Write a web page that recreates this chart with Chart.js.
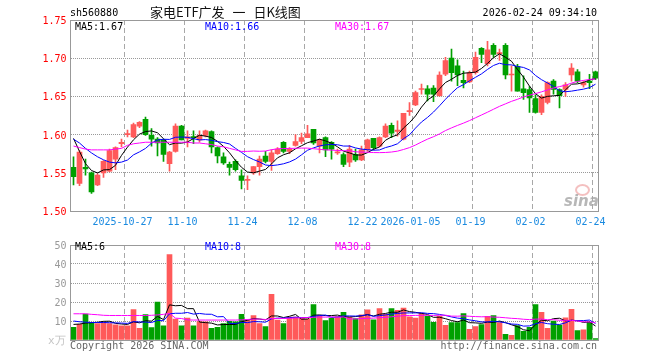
<!DOCTYPE html>
<html>
<head>
<meta charset="utf-8">
<script src="https://cdn.jsdelivr.net/npm/chart.js@4.4.1/dist/chart.umd.min.js"></script>
<style>
  body { margin: 0; background: #fff; }
  #wrap { position: relative; width: 660px; height: 360px; overflow: hidden; }
  canvas { position: absolute; left: 0; }
  .t { position: absolute; font: 10px "DejaVu Sans Mono", monospace; line-height: 12px; white-space: nowrap; }
</style>
</head>
<body>
<div id="wrap">
  <canvas id="kline" width="660" height="235" style="top:0"></canvas>
  <canvas id="vol" width="660" height="125" style="top:235px"></canvas>

  <div class="t" style="left:70px;top:7px;color:#000">sh560880</div>
  <div class="t" style="left:150px;top:4px;font:13px 'Noto Sans CJK SC';line-height:16px;color:#111;word-spacing:5px">家电ETF广发 一 日K线图</div>
  <div class="t" style="right:63px;top:7px;color:#000">2026-02-24 09:34:10</div>

  <div class="t" style="left:75px;top:21px;color:#000">MA5:1.67</div>
  <div class="t" style="left:205px;top:21px;color:#0000ff">MA10:1.66</div>
  <div class="t" style="left:335px;top:21px;color:#ff00ff">MA30:1.67</div>

  <div class="t" style="left:75px;top:241px;color:#000">MA5:6</div>
  <div class="t" style="left:205px;top:241px;color:#0000ff">MA10:8</div>
  <div class="t" style="left:335px;top:241px;color:#ff00ff">MA30:8</div>

  <div class="t" style="left:48px;top:335px;color:#c4c4c4;font-size:11px">x万</div>
  <div class="t" style="left:70px;top:340px;color:#666">Copyright 2026 SINA.COM</div>
  <div class="t" style="right:63px;top:340px;color:#666">http://finance.sina.com.cn</div>
  <div style="position:absolute;left:575px;top:184px;width:11px;height:8px;border:2px solid rgba(235,140,140,0.55);border-radius:50%"></div>
  <div class="t" style="left:564px;top:193px;font:italic bold 15px 'DejaVu Sans';line-height:16px;color:rgba(165,165,165,0.8)">sina</div>
</div>

<script>
// daily candles, 2025-10-14 .. 2026-02-24 (88 trading days)
opens = [1.557,1.536,1.557,1.550,1.534,1.550,1.552,1.568,1.588,1.600,
         1.597,1.611,1.620,1.599,1.594,1.593,1.562,1.578,1.611,1.595,
         1.597,1.593,1.599,1.604,1.583,1.571,1.561,1.565,1.546,1.540,
         1.550,1.558,1.572,1.565,1.575,1.590,1.578,1.586,1.591,1.596,
         1.607,1.585,1.596,1.590,1.576,1.574,1.564,1.574,1.567,1.580,
         1.595,1.585,1.597,1.612,1.604,1.594,1.630,1.639,1.659,1.660,
         1.661,1.651,1.679,1.700,1.690,1.671,1.669,1.681,1.713,1.693,
         1.717,1.706,1.717,1.678,1.689,1.660,1.659,1.647,1.629,1.642,
         1.670,1.659,1.659,1.678,1.682,1.665,1.670,1.682];
highs = [1.571,1.579,1.568,1.551,1.549,1.566,1.581,1.584,1.594,1.606,
         1.615,1.617,1.623,1.608,1.596,1.594,1.578,1.614,1.612,1.605,
         1.605,1.605,1.606,1.605,1.584,1.576,1.564,1.567,1.554,1.546,
         1.558,1.572,1.578,1.580,1.583,1.591,1.583,1.600,1.602,1.612,
         1.607,1.594,1.597,1.591,1.581,1.576,1.586,1.581,1.585,1.594,
         1.595,1.597,1.614,1.615,1.618,1.628,1.642,1.657,1.666,1.664,
         1.664,1.682,1.701,1.712,1.698,1.683,1.683,1.708,1.714,1.722,
         1.719,1.712,1.719,1.690,1.692,1.677,1.663,1.652,1.652,1.669,
         1.672,1.660,1.668,1.693,1.685,1.670,1.679,1.683];
lows =  [1.534,1.533,1.547,1.523,1.533,1.544,1.551,1.554,1.584,1.597,
         1.596,1.609,1.599,1.585,1.572,1.565,1.552,1.577,1.593,1.584,
         1.588,1.590,1.597,1.576,1.563,1.561,1.547,1.552,1.529,1.528,
         1.548,1.547,1.563,1.553,1.574,1.576,1.575,1.585,1.588,1.596,
         1.587,1.576,1.571,1.568,1.574,1.558,1.558,1.565,1.566,1.578,
         1.580,1.584,1.596,1.596,1.598,1.593,1.625,1.638,1.653,1.644,
         1.643,1.650,1.677,1.670,1.664,1.661,1.668,1.679,1.694,1.690,
         1.701,1.697,1.673,1.657,1.657,1.646,1.629,1.628,1.626,1.640,
         1.653,1.635,1.650,1.670,1.668,1.662,1.660,1.672];
closes = [1.545,1.577,1.555,1.525,1.547,1.565,1.579,1.583,1.590,1.601,
          1.613,1.616,1.600,1.594,1.589,1.574,1.577,1.611,1.593,1.597,
          1.596,1.599,1.605,1.584,1.572,1.563,1.557,1.554,1.540,1.541,
          1.558,1.568,1.565,1.576,1.581,1.578,1.581,1.591,1.596,1.601,
          1.589,1.593,1.580,1.581,1.577,1.561,1.581,1.567,1.580,1.593,
          1.583,1.596,1.611,1.602,1.606,1.628,1.631,1.655,1.660,1.653,
          1.653,1.678,1.697,1.681,1.678,1.668,1.681,1.701,1.705,1.711,
          1.705,1.707,1.678,1.679,1.657,1.655,1.648,1.629,1.650,1.668,
          1.659,1.651,1.665,1.687,1.670,1.668,1.668,1.674];
// volume, 万手
volumes = [6.7,8.3,13.7,9.2,8.7,9.2,8.7,8.0,7.5,7.5,
           16.0,6.2,13.4,6.6,20.0,7.5,45.0,11.0,7.5,11.5,
           7.5,9.7,9.5,6.2,6.7,8.6,9.8,9.5,13.5,10.6,
           12.9,8.7,7.1,24.0,10.5,8.7,12.1,12.0,11.4,11.0,
           18.7,12.9,10.2,11.5,12.3,14.6,12.0,11.3,13.3,15.9,
           10.6,16.6,13.5,16.6,15.6,16.8,12.2,11.6,14.0,12.6,
           9.3,12.5,7.7,9.2,9.2,13.9,5.6,7.1,8.1,12.5,
           12.9,9.2,3.0,2.5,7.6,4.6,6.7,18.7,14.5,6.2,
           10.0,7.9,11.7,16.2,5.0,5.4,9.3,0.8];

// MA values before enough days are on screen
ma5Head = [1.595,1.578,1.562,1.553];
ma10Head = [1.594,1.589,1.582,1.576,1.571,1.567,1.564,1.563,1.564];
ma30Head = [1.585,1.583,1.581,1.580,1.580,1.580,1.580,1.581,1.582,1.586,
            1.588,1.589,1.590,1.590,1.590,1.590,1.590,1.590,1.590,1.590,
            1.589,1.589,1.588,1.587,1.585,1.584,1.582,1.580,1.578];
volMa5Head = [8.2,8.4,8.9,9.1];
volMa10Head = [10.0,9.6,9.4,9.2,9.2,9.2,9.1,9.0,8.9];
volMa30Head = [13.8,13.8,13.8,13.5,13.3,13.0,12.9,12.9,12.9,12.9,
               12.9,12.9,12.9,13.0,13.2,13.5,14.0,11.5,11.3,10.6,
               10.5,10.5,10.5,10.5,10.5,10.5,10.5,10.5,10.6];

tickIdx = [9,19,29,39,49,57,67,77,87];
tickLabels = ['2025-10-27','11-10','11-24','12-08','12-22','2026-01-05','01-19','02-02','02-24'];
priceTicks = [1.50,1.55,1.60,1.65,1.70,1.75];

UP = '#ff5a5a';
DOWN = '#00a000';
GRID = '#999';
MONO = '"DejaVu Sans Mono", monospace';

Chart.defaults.font.family = MONO;
Chart.defaults.font.size = 10;

function movingAvg(src, n, head) {
    return src.map((v, i) => {
        if (i < head.length) return head[i];
        let s = 0;
        for (let k = i - n + 1; k <= i; k++) s += src[k];
        return s / n;
    });
}

// draws the grey box round the plot area
frame = {
    id: 'frame',
    afterDatasetsDraw(chart) {
        const a = chart.chartArea, ctx = chart.ctx;
        ctx.save();
        ctx.strokeStyle = '#999';
        ctx.lineWidth = 1;
        ctx.strokeRect(Math.floor(a.left) + 0.5, Math.floor(a.top) + 0.5,
            Math.round(a.right - a.left), Math.round(a.bottom - a.top));
        ctx.restore();
    }
};

labels = closes.map((c, i) => i);
colors = closes.map((c, i) => c >= opens[i] ? UP : DOWN);

function xAxis(showLabels, height) {
    return {
        type: 'category',
        offset: true,
        grid: {
            offset: true,
            drawTicks: false,
            lineWidth: 1,
            color: c => tickIdx.includes(c.index) ? '#a8a8a8' : 'rgba(255,255,255,0)'
        },
        border: { display: false, dash: [5, 3] },
        ticks: {
            display: showLabels,
            autoSkip: false,
            maxRotation: 0,
            padding: 5,
            labelOffset: -5,
            color: '#1a8ae0',
            callback: (v, i) => {
                const k = tickIdx.indexOf(i);
                return k < 0 ? '' : tickLabels[k];
            }
        },
        afterFit: axis => { axis.height = height; }
    };
}

function lineSet(data, color) {
    return {
        type: 'line', data: data, borderColor: color, borderWidth: 1,
        pointRadius: 0, tension: 0, fill: false, order: 0
    };
}

function genKline() {
    const ctx = document.getElementById('kline');
    return new Chart(ctx, {
        type: 'bar',
        data: {
            labels: labels,
            datasets: [
                {
                    data: lows.map((l, i) => [l, highs[i]]),
                    backgroundColor: colors, barThickness: 1, grouped: false, order: 2
                },
                {
                    data: opens.map((o, i) => [o, closes[i]]),
                    backgroundColor: colors, barThickness: 5, minBarLength: 1, grouped: false, order: 1
                },
                lineSet(movingAvg(closes, 30, ma30Head), '#ff00ff'),
                lineSet(movingAvg(closes, 10, ma10Head), '#0000ff'),
                lineSet(movingAvg(closes, 5, ma5Head), '#000000')
            ]
        },
        options: {
            responsive: false,
            animation: false,
            devicePixelRatio: 1,
            layout: { padding: { left: 0.5, right: 61.5, top: 20, bottom: 0 } },
            plugins: { legend: { display: false }, tooltip: { enabled: false } },
            scales: {
                x: xAxis(true, 24),
                y: {
                    min: 1.5,
                    max: 1.75,
                    afterBuildTicks: axis => { axis.ticks = priceTicks.map(v => ({ value: v })); },
                    grid: { drawTicks: false, lineWidth: 1, color: GRID },
                    border: { display: false, dash: [1, 1] },
                    ticks: { color: '#ff0000', padding: 4, labelOffset: 1.5, callback: v => v.toFixed(2) },
                    afterFit: axis => { axis.width = 70; }
                }
            }
        },
        plugins: [frame]
    });
}

function genVolume() {
    const ctx = document.getElementById('vol');
    return new Chart(ctx, {
        type: 'bar',
        data: {
            labels: labels,
            datasets: [
                {
                    data: volumes, backgroundColor: colors, barThickness: 5,
                    grouped: false, order: 1
                },
                lineSet(movingAvg(volumes, 30, volMa30Head), '#ff00ff'),
                lineSet(movingAvg(volumes, 10, volMa10Head), '#0000ff'),
                lineSet(movingAvg(volumes, 5, volMa5Head), '#000000')
            ]
        },
        options: {
            responsive: false,
            animation: false,
            devicePixelRatio: 1,
            layout: { padding: { left: 0.5, right: 61.5, top: 5, bottom: 0 } },
            plugins: { legend: { display: false }, tooltip: { enabled: false } },
            scales: {
                x: xAxis(false, 20),
                y: {
                    min: 0,
                    max: 50,
                    ticks: {
                        stepSize: 10, color: '#999', padding: 4, labelOffset: 1,
                        callback: v => v === 0 ? '' : String(v)
                    },
                    grid: { drawTicks: false, lineWidth: 1, color: GRID },
                    border: { display: false, dash: [1, 1] },
                    afterFit: axis => { axis.width = 70; }
                }
            }
        },
        plugins: [frame]
    });
}

klineChart = genKline();
volChart = genVolume();
</script>
</body>
</html>
